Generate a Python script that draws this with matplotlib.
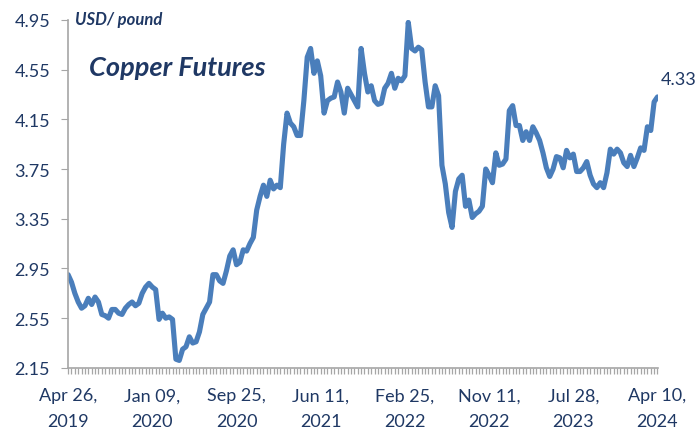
import matplotlib
matplotlib.use("Agg")
import matplotlib.pyplot as plt

# weekly-ish copper futures, USD/pound
prices = [
    2.90, 2.84, 2.75, 2.68, 2.63, 2.65, 2.71, 2.66, 2.72, 2.68,
    2.58, 2.57, 2.55, 2.62, 2.62, 2.59, 2.58, 2.63, 2.66, 2.68,
    2.65, 2.67, 2.75, 2.80, 2.83, 2.80, 2.78, 2.54, 2.59, 2.55,
    2.56, 2.54, 2.22, 2.21, 2.30, 2.32, 2.40, 2.35, 2.36, 2.44,
    2.58, 2.63, 2.68, 2.90, 2.90, 2.85, 2.83, 2.93, 3.05, 3.10,
    2.98, 3.00, 3.10, 3.09, 3.15, 3.20, 3.42, 3.53, 3.62, 3.53,
    3.66, 3.59, 3.62, 3.60, 3.95, 4.20, 4.12, 4.09, 4.02, 4.02,
    4.30, 4.65, 4.72, 4.52, 4.62, 4.50, 4.20, 4.30, 4.32, 4.33,
    4.45, 4.37, 4.20, 4.40, 4.35, 4.30, 4.25, 4.72, 4.52, 4.37,
    4.42, 4.30, 4.27, 4.28, 4.40, 4.44, 4.52, 4.40, 4.48, 4.46,
    4.50, 4.93, 4.72, 4.70, 4.73, 4.71, 4.45, 4.25, 4.25, 4.42,
    4.34, 3.78, 3.63, 3.40, 3.28, 3.57, 3.67, 3.70, 3.45, 3.50,
    3.36, 3.39, 3.41, 3.45, 3.75, 3.70, 3.64, 3.88, 3.78, 3.79,
    3.83, 4.22, 4.26, 4.10, 4.10, 3.98, 4.05, 3.98, 4.09, 4.04,
    3.98, 3.88, 3.76, 3.69, 3.75, 3.85, 3.84, 3.76, 3.90, 3.84,
    3.87, 3.73, 3.73, 3.76, 3.81, 3.70, 3.63, 3.60, 3.64, 3.60,
    3.72, 3.91, 3.87, 3.91, 3.88, 3.80, 3.77, 3.86, 3.77, 3.84,
    3.92, 3.90, 4.09, 4.06, 4.29, 4.33,
]
date_labels = [
    "Apr 26,\n2019", "Jan 09,\n2020", "Sep 25,\n2020", "Jun 11,\n2021",
    "Feb 25,\n2022", "Nov 11,\n2022", "Jul 28,\n2023", "Apr 10,\n2024",
]
label_step = 25
y_ticks = [2.15, 2.55, 2.95, 3.35, 3.75, 4.15, 4.55, 4.95]

navy = "#1F3864"
grey = "#A6A6A6"
blue = "#4A7EBB"
plt.rcParams["font.family"] = ["Lato", "DejaVu Sans"]

fig = plt.figure(figsize=(6.95, 4.35), dpi=100)
ax = fig.add_axes([0.098, 0.152, 0.849, 0.800])

x = list(range(len(prices)))
ax.plot(x, prices, color=blue, lw=3.7, solid_joinstyle="round", solid_capstyle="round")

ax.set_ylim(2.15, 4.95)
ax.set_xlim(0, len(prices) - 0.8)
ax.set_yticks(y_ticks)
ax.set_yticklabels([f"{v:.2f}" for v in y_ticks])

# one tick per observation, a label every 25 of them
ax.set_xticks(x)
ax.set_xticklabels([date_labels[i // label_step] if i % label_step == 0 else "" for i in x],
                   linespacing=1.75)

for side in ["top", "right"]:
    ax.spines[side].set_visible(False)
for side in ["left", "bottom"]:
    ax.spines[side].set_color(grey)
    ax.spines[side].set_linewidth(1.2)

ax.tick_params(axis="y", direction="out", length=5, color=grey, labelsize=13,
               labelcolor=navy, pad=8)
ax.tick_params(axis="x", direction="out", length=4, color=grey, width=0.9,
               labelsize=13, labelcolor=navy, pad=10)

fig.text(0.108, 0.955, "USD/ pound", color=navy, fontsize=12, fontweight="bold",
         fontstyle="italic", va="center")
fig.text(0.128, 0.843, "Copper Futures", color=navy, fontsize=19.5, fontweight="bold",
         fontstyle="italic", va="center")
ax.annotate(f"{prices[-1]:.2f}", xy=(x[-1], prices[-1]), xytext=(2, 13),
            textcoords="offset points", color=navy, fontsize=13, va="center")

fig.savefig("out.png", dpi=100)
